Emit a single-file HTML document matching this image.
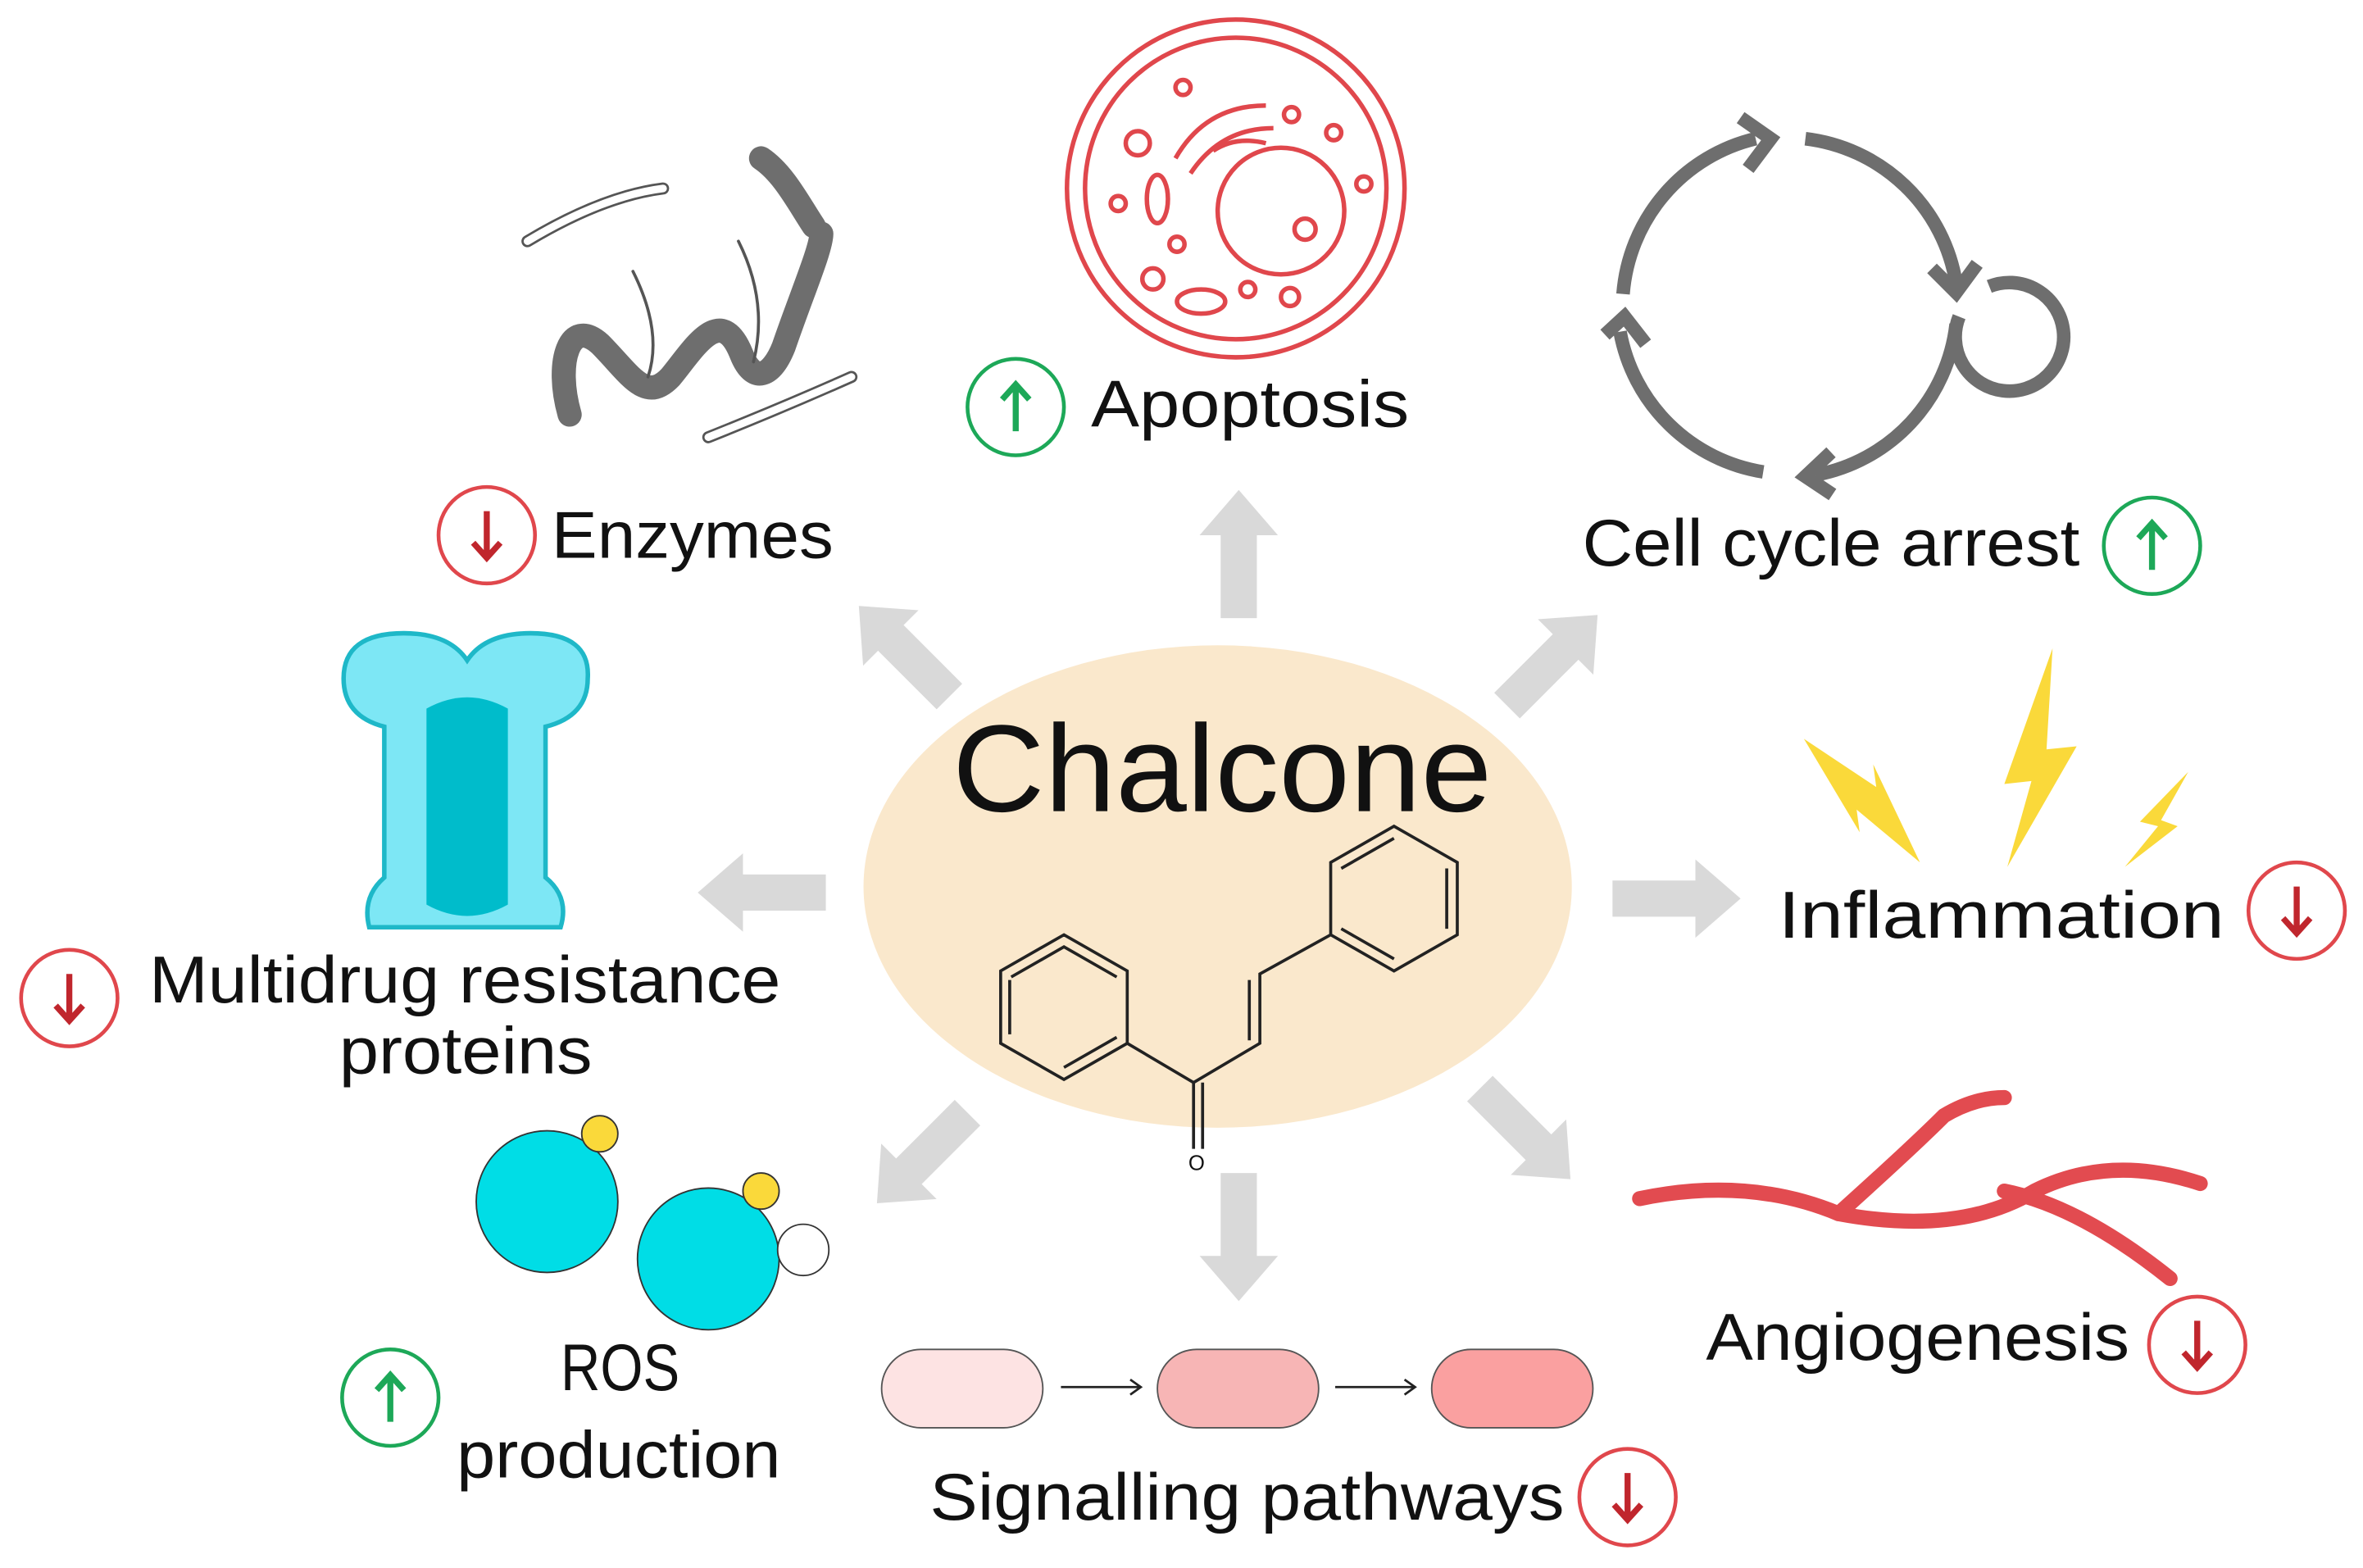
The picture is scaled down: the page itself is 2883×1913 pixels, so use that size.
<!DOCTYPE html>
<html><head><meta charset="utf-8"><style>
html,body{margin:0;padding:0;background:#fff;}
svg{display:block;}
text{font-family:"Liberation Sans",sans-serif;fill:#111;}
</style></head><body>
<svg width="2883" height="1913" viewBox="0 0 1568 1040" preserveAspectRatio="none" xmlns="http://www.w3.org/2000/svg">
<rect width="1568" height="1040" fill="#fff"/>
<ellipse cx="808" cy="588" rx="235" ry="160" fill="#FAE8CC"/>
<text x="632" y="538" font-size="82" textLength="358" lengthAdjust="spacingAndGlyphs">Chalcone</text>
<g fill="none" stroke="#222" stroke-width="2">
<polygon points="706,620 748,644 748,692 706,716 664,692 664,644"/>
<polyline points="671,648 706,628 741,648"/>
<line x1="741" y1="688" x2="706" y2="708"/>
<line x1="670" y1="650" x2="670" y2="686"/>
<polygon points="925,548 967,572 967,620 925,644 883,620 883,572"/>
<line x1="890" y1="576" x2="925" y2="556"/>
<line x1="960" y1="576" x2="960" y2="616"/>
<line x1="890" y1="616" x2="925" y2="636"/>
<polyline points="748,692 792,718 836,692 836,646 883,620"/>
<line x1="829" y1="690" x2="829" y2="650"/>
<line x1="792" y1="718" x2="792" y2="762"/>
<line x1="798" y1="718" x2="798" y2="762"/>
</g>
<text x="794" y="776" font-size="14" text-anchor="middle">O</text>
<defs><polygon id="ar" points="0,-12 55,-12 55,-26 85,0 55,26 55,12 0,12" fill="#D9D9D9"/></defs>
<use href="#ar" transform="translate(822,410) rotate(-90)"/>
<use href="#ar" transform="translate(630,462) rotate(-135)"/>
<use href="#ar" transform="translate(1000,468) rotate(-45)"/>
<use href="#ar" transform="translate(548,592) rotate(180)"/>
<use href="#ar" transform="translate(1070,596)"/>
<use href="#ar" transform="translate(642,738) rotate(135)"/>
<use href="#ar" transform="translate(822,778) rotate(90)"/>
<use href="#ar" transform="translate(982,722) rotate(45)"/>
<defs>
<g id="up"><circle r="32" fill="#fff" stroke="#1DA858" stroke-width="2.5"/><path d="M0,16 V-14 M-9,-5 L0,-15 L9,-5" stroke="#1DA858" stroke-width="4" fill="none"/></g>
<g id="dn"><circle r="32" fill="#fff" stroke="#E0474C" stroke-width="2.5"/><path d="M0,-16 V14 M-9,5 L0,15 L9,5" stroke="#C0262D" stroke-width="4" fill="none"/></g>
</defs>
<use href="#up" x="674" y="270"/>
<use href="#dn" x="323" y="355"/>
<use href="#up" x="1428" y="362"/>
<use href="#dn" x="1524" y="604"/>
<use href="#dn" x="46" y="662"/>
<use href="#up" x="259" y="927"/>
<use href="#dn" x="1080" y="993"/>
<use href="#dn" x="1458" y="892"/>
<g font-size="44" lengthAdjust="spacingAndGlyphs">
<text x="724" y="283" textLength="211" lengthAdjust="spacingAndGlyphs">Apoptosis</text>
<text x="366" y="370" textLength="187" lengthAdjust="spacingAndGlyphs">Enzymes</text>
<text x="1050" y="375" textLength="330" lengthAdjust="spacingAndGlyphs">Cell cycle arrest</text>
<text x="1180" y="622" textLength="296" lengthAdjust="spacingAndGlyphs">Inflammation</text>
<text x="99" y="665" textLength="419" lengthAdjust="spacingAndGlyphs">Multidrug resistance</text>
<text x="225" y="712" textLength="168" lengthAdjust="spacingAndGlyphs">proteins</text>
<text x="372" y="922" textLength="79" lengthAdjust="spacingAndGlyphs">ROS</text>
<text x="303" y="980" textLength="215" lengthAdjust="spacingAndGlyphs">production</text>
<text x="617" y="1008" textLength="421" lengthAdjust="spacingAndGlyphs">Signalling pathways</text>
<text x="1132" y="902" textLength="281" lengthAdjust="spacingAndGlyphs">Angiogenesis</text>
</g>
<g fill="none" stroke="#E0474C" stroke-width="3">
<circle cx="820" cy="125" r="112"/>
<circle cx="820" cy="125" r="100"/>
<circle cx="850" cy="140" r="42"/>
<circle cx="866" cy="152" r="7"/>
<path d="M780,105 Q800,70 840,70"/><path d="M790,115 Q810,85 845,85"/><path d="M805,100 Q820,90 840,95"/>
<circle cx="755" cy="95" r="8"/><circle cx="785" cy="58" r="5"/><circle cx="857" cy="76" r="5"/><circle cx="885" cy="88" r="5"/><circle cx="905" cy="122" r="5"/>
<ellipse cx="768" cy="132" rx="7" ry="16"/><circle cx="742" cy="135" r="5"/><circle cx="781" cy="162" r="5"/><circle cx="765" cy="185" r="7"/>
<ellipse cx="797" cy="200" rx="16" ry="8"/><circle cx="828" cy="192" r="5"/><circle cx="856" cy="197" r="6"/>
</g>
<g fill="none" stroke="#6E6E6E" stroke-width="9">
<path d="M1077,195 A115,115 0 0 1 1165,92"/>
<path d="M1198,92 A115,115 0 0 1 1298,188"/>
<path d="M1298,215 A115,115 0 0 1 1205,315"/>
<path d="M1170,313 A115,115 0 0 1 1075,220"/>
<path d="M1300,210 A36,36 0 1 0 1320,190"/>
<path d="M1155,78 L1175,92 L1160,112"/><path d="M1282,178 L1298,194 L1312,175"/><path d="M1215,300 L1198,316 L1216,328"/><path d="M1065,222 L1078,210 L1092,228"/>
</g>
<g fill="#FAD93A">
<polygon points="1362,430 1330,520 1348,518 1332,575 1378,495 1358,497"/>
<polygon points="1197,490 1245,522 1243,507 1274,572 1232,537 1234,552"/>
<polygon points="1452,512 1420,545 1432,548 1410,575 1445,548 1434,544"/>
</g>
<g fill="none" stroke="#E24B50" stroke-width="10" stroke-linecap="round">
<path d="M1088,795 Q1160,780 1220,805 Q1300,820 1350,790 Q1400,765 1460,785"/>
<path d="M1220,805 Q1270,760 1290,740 Q1310,728 1330,728"/>
<path d="M1330,790 Q1380,800 1440,848"/>
</g>
<g stroke="#1EB8C8" stroke-width="3" fill="#7DE7F5">
<path d="M228,450 Q228,420 268,420 Q298,420 310,438 Q322,420 352,420 Q392,420 390,450 Q390,475 362,482 L362,582 Q378,595 372,615 L245,615 Q240,595 255,582 L255,482 Q228,475 228,450 Z"/>
<path d="M283,470 Q310,455 337,470 L337,600 Q310,615 283,600 Z" fill="#00BCCB" stroke="none"/>
</g>
<g stroke="#333" stroke-width="1">
<circle cx="363" cy="797" r="47" fill="#00DDE6"/>
<circle cx="470" cy="835" r="47" fill="#00DDE6"/>
<circle cx="398" cy="752" r="12" fill="#FAD93A"/>
<circle cx="505" cy="790" r="12" fill="#FAD93A"/>
<circle cx="533" cy="829" r="17" fill="#fff"/>
</g>
<g fill="none" stroke-linecap="round">
<path d="M378,275 C368,240 378,210 398,228 C418,248 428,268 445,250 C460,232 478,200 492,235 C500,255 512,250 520,230 C532,195 545,165 545,155" stroke="#6E6E6E" stroke-width="16"/>
<path d="M505,105 C520,115 530,135 540,150" stroke="#6E6E6E" stroke-width="16"/>
<path d="M350,160 Q400,130 440,125" stroke="#555" stroke-width="8"/><path d="M350,160 Q400,130 440,125" stroke="#fff" stroke-width="5"/>
<path d="M470,290 Q520,270 565,250" stroke="#555" stroke-width="8"/><path d="M470,290 Q520,270 565,250" stroke="#fff" stroke-width="5"/>
<path d="M420,180 Q440,220 430,250" stroke="#555" stroke-width="2"/><path d="M490,160 Q510,200 500,240" stroke="#555" stroke-width="2"/>
</g>
<g stroke="#555" stroke-width="1">
<rect x="585" y="895" width="107" height="52" rx="26" fill="#FDE3E3"/>
<rect x="768" y="895" width="107" height="52" rx="26" fill="#F7B5B5"/>
<rect x="950" y="895" width="107" height="52" rx="26" fill="#FAA0A0"/>
</g>
<g stroke="#222" stroke-width="1.5" fill="none">
<path d="M704,920 H756 M750,915 L757,920 L750,925"/>
<path d="M886,920 H938 M932,915 L939,920 L932,925"/>
</g>
</svg>
</body></html>
